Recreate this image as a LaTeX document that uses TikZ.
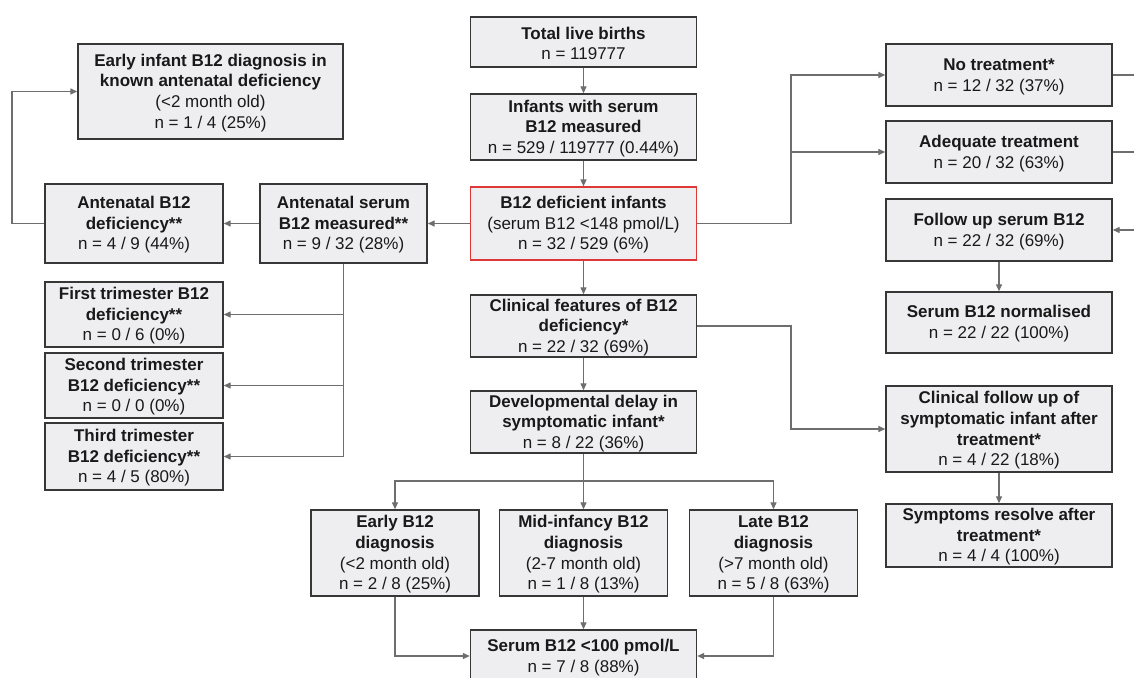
\documentclass[tikz,border=0pt]{standalone}
\usepackage{fontspec}
\setmainfont{Liberation Sans}
\usetikzlibrary{arrows.meta}
\definecolor{boxfill}{RGB}{238,238,240}
\definecolor{boxline}{RGB}{55,55,55}
\definecolor{linkgray}{RGB}{110,110,110}
\definecolor{alertred}{RGB}{222,55,55}
\definecolor{inktext}{RGB}{25,25,25}
% extra room above the first line so each text block sits centred in its box
\newcommand{\ts}{\rule{0pt}{15pt}}

\begin{document}
\begin{tikzpicture}[x=1pt,y=-1pt,
  box/.style={draw=boxline, fill=boxfill, line width=1.4pt, align=center,
    inner sep=0pt, text=inktext, font=\fontsize{17}{20.7}\selectfont},
  wide/.style={minimum width=226pt},
  narrow/.style={minimum width=168pt},
  side/.style={minimum width=178pt},
  link/.style={draw=linkgray, line width=1.3pt, -{Triangle[length=7pt,width=6pt]}},
  plain/.style={draw=linkgray, line width=1.3pt}]
\clip (0,0) rectangle (1134,677);
\fill[white] (0,0) rectangle (1134,677);

% central column
\node[box, wide, minimum height=50pt] (total) at (583.5,42)
  {\ts\textbf{Total live births}\\n = 119777};
\node[box, wide, minimum height=66pt] (measured) at (583.5,127)
  {\ts\textbf{Infants with serum}\\\textbf{B12 measured}\\n = 529 / 119777 (0.44\%)};
\node[box, wide, minimum height=73pt, draw=alertred, line width=1.2pt] (deficient) at (583.5,223.5)
  {\ts\textbf{B12 deficient infants}\\(serum B12 <148 pmol/L)\\n = 32 / 529 (6\%)};
\node[box, wide, minimum height=62pt] (clinical) at (583.5,326)
  {\ts\textbf{Clinical features of B12}\\\textbf{deficiency*}\\n = 22 / 32 (69\%)};
\node[box, wide, minimum height=62pt] (delay) at (583.5,422)
  {\ts\textbf{Developmental delay in}\\\textbf{symptomatic infant*}\\n = 8 / 22 (36\%)};

% age at diagnosis
\node[box, narrow, minimum height=86pt] (earlydx) at (395,553)
  {\ts\textbf{Early B12}\\\textbf{diagnosis}\\(<2 month old)\\n = 2 / 8 (25\%)};
\node[box, narrow, minimum height=86pt] (middx) at (583.5,553)
  {\ts\textbf{Mid-infancy B12}\\\textbf{diagnosis}\\(2-7 month old)\\n = 1 / 8 (13\%)};
\node[box, narrow, minimum height=86pt] (latedx) at (773.5,553)
  {\ts\textbf{Late B12}\\\textbf{diagnosis}\\(>7 month old)\\n = 5 / 8 (63\%)};
\node[box, wide, minimum height=52pt] (low) at (583.5,656)
  {\ts\textbf{Serum B12 <100 pmol/L}\\n = 7 / 8 (88\%)};

% antenatal branch
\node[box, minimum width=265pt, minimum height=95pt] (earlyinf) at (210.5,91.5)
  {\ts\textbf{Early infant B12 diagnosis in}\\\textbf{known antenatal deficiency}\\(<2 month old)\\n = 1 / 4 (25\%)};
\node[box, side, minimum height=79pt] (antdef) at (134,223.5)
  {\ts\textbf{Antenatal B12}\\\textbf{deficiency**}\\n = 4 / 9 (44\%)};
\node[box, minimum width=167pt, minimum height=79pt] (antserum) at (343.5,223.5)
  {\ts\textbf{Antenatal serum}\\\textbf{B12 measured**}\\n = 9 / 32 (28\%)};
\node[box, side, minimum height=65pt] (first) at (134,314.5)
  {\ts\textbf{First trimester B12}\\\textbf{deficiency**}\\n = 0 / 6 (0\%)};
\node[box, side, minimum height=65pt] (second) at (134,385.5)
  {\ts\textbf{Second trimester}\\\textbf{B12 deficiency**}\\n = 0 / 0 (0\%)};
\node[box, side, minimum height=67pt] (third) at (134,456.5)
  {\ts\textbf{Third trimester}\\\textbf{B12 deficiency**}\\n = 4 / 5 (80\%)};

% treatment branch
\node[box, wide, minimum height=62pt] (notreat) at (999,75)
  {\ts\textbf{No treatment*}\\n = 12 / 32 (37\%)};
\node[box, wide, minimum height=62pt] (adequate) at (999,152)
  {\ts\textbf{Adequate treatment}\\n = 20 / 32 (63\%)};
\node[box, wide, minimum height=62pt] (followup) at (999,230)
  {\ts\textbf{Follow up serum B12}\\n = 22 / 32 (69\%)};
\node[box, wide, minimum height=61pt] (normal) at (999,322.5)
  {\ts\textbf{Serum B12 normalised}\\n = 22 / 22 (100\%)};
\node[box, wide, minimum height=86pt] (cfollow) at (999,429)
  {\ts\textbf{Clinical follow up of}\\\textbf{symptomatic infant after}\\\textbf{treatment*}\\n = 4 / 22 (18\%)};
\node[box, wide, minimum height=63pt] (resolve) at (999,535.5)
  {\ts\textbf{Symptoms resolve after}\\\textbf{treatment*}\\n = 4 / 4 (100\%)};

% routing rails
\coordinate (split) at (583.5,481);
\coordinate (leftrail) at (12,0);
\coordinate (rrail) at (791,0);
\coordinate (edge) at (1134,0);

% central column links
\draw[link] (total.south) -- (measured.north);
\draw[link] (measured.south) -- (deficient.north);
\draw[link] (deficient.south) -- (clinical.north);
\draw[link] (clinical.south) -- (delay.north);
\draw[link] (delay.south) -- (middx.north);
\draw[link] (split) -| (earlydx.north);
\draw[link] (split) -| (latedx.north);
\draw[link] (earlydx.south) |- (low.west);
\draw[link] (latedx.south) |- (low.east);
\draw[link] (middx.south) -- (low.north);

% antenatal links
\draw[link] (deficient.west) -- (antserum.east);
\draw[link] (antserum.west) -- (antdef.east);
\draw[link] (antdef.west) -- (leftrail |- antdef.west) |- (earlyinf.west);
\draw[link] (antserum.south) |- (third.east);
\draw[link] (antserum.south |- first.east) -- (first.east);
\draw[link] (antserum.south |- second.east) -- (second.east);

% treatment links
\draw[link] (deficient.east) -- (rrail |- deficient.east) |- (notreat.west);
\draw[link] (rrail |- adequate.west) -- (adequate.west);
\draw[link] (clinical.east) -- (rrail |- clinical.east) |- (cfollow.west);
\draw[plain] (notreat.east) -- (edge |- notreat.east);
\draw[plain] (adequate.east) -- (edge |- adequate.east);
\draw[link] (edge |- followup.east) -- (followup.east);
\draw[link] (followup.south) -- (normal.north);
\draw[link] (cfollow.south) -- (resolve.north);
\end{tikzpicture}
\end{document}
